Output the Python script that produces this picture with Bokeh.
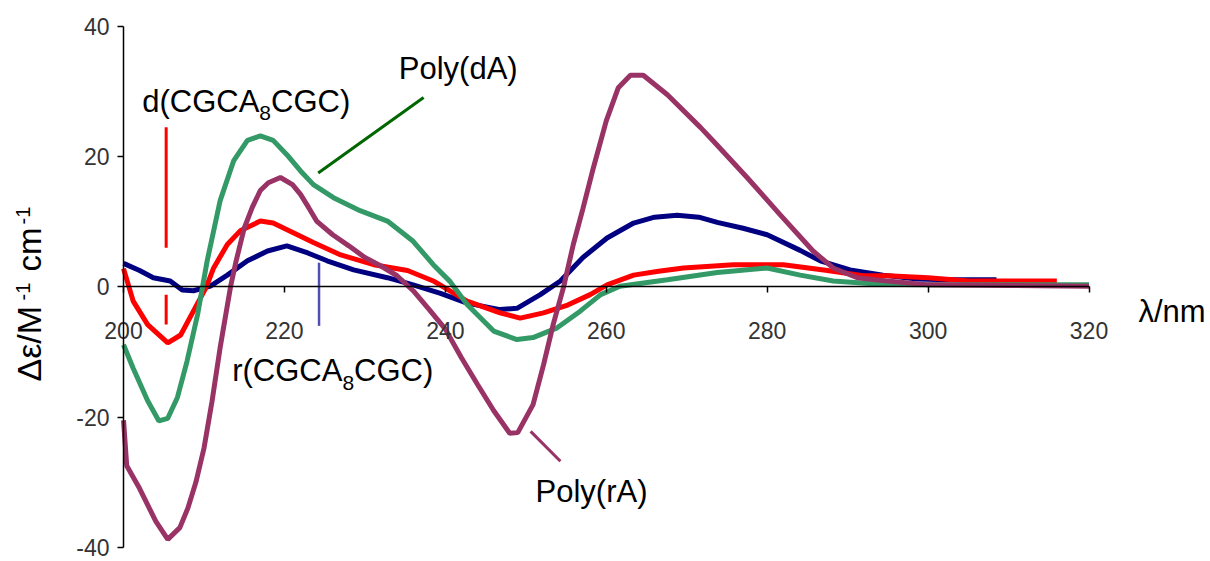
import math
from bokeh.plotting import figure
from bokeh.models import LinearAxis, Range1d, Label, FixedTicker, PrintfTickFormatter
from bokeh.embed import file_html
from bokeh.resources import INLINE

# ---------------- data ----------------
x_ticks = [200, 220, 240, 260, 280, 300, 320]
y_ticks = [-40, -20, 0, 20, 40]

wl_r = [200, 202, 203.7, 205.8, 207.3, 208.7, 210.8, 212.9, 215.4, 217.9, 220.3, 222.9, 225.3,
        228.6, 232.8, 236, 239.4, 242.7, 246.8, 248.9, 251.8, 254.3, 257.1, 260.1, 263.4, 266,
        268.8, 271.5, 273.8, 277, 280, 284.1, 286.6, 290.3, 294.4, 298.6, 302.5, 306.8, 308.5]
cd_r = [3.6, 2.5, 1.4, 0.9, -0.5, -0.6, 0.1, 1.8, 4.0, 5.5, 6.3, 5.2, 4.0,
        2.6, 1.4, 0.3, -1.0, -2.5, -3.5, -3.3, -1.2, 0.9, 4.5, 7.5, 9.8, 10.7,
        11.0, 10.7, 9.9, 9.0, 8.0, 5.6, 4.0, 2.6, 1.8, 1.2, 1.1, 1.1, 1.1]

wl_d = [200, 201.2, 203, 205.5, 207.1, 208.7, 210.3, 211.2, 212.9, 214.5, 217, 218.6, 221.1,
        223.6, 227, 231.1, 235.3, 238.5, 242.7, 246.8, 249.3, 252.2, 255.2, 258, 260.1, 263.4,
        266.5, 269.6, 275.8, 282, 287.5, 291.9, 295, 300, 305, 310, 316]
cd_d = [2.8, -2.2, -5.8, -8.6, -7.4, -3.7, 0.0, 2.9, 6.5, 8.6, 10.1, 9.8, 8.3,
        6.8, 4.9, 3.4, 2.5, 0.9, -2.2, -4.0, -4.8, -4.0, -2.8, -1.2, 0.3, 1.8,
        2.4, 2.9, 3.4, 3.4, 2.5, 1.7, 1.7, 1.4, 0.9, 0.9, 0.9]

wl_da = [200, 201.2, 203, 204.4, 205.5, 206.7, 207.9, 209.2, 210.4, 212, 213.7, 215.4, 217,
         218.6, 220.3, 222, 223.6, 226.1, 229.4, 232.8, 236, 238.5, 240.6, 242.7, 246, 248.9,
         250.9, 253.9, 256.8, 259.3, 261.7, 267.6, 273.8, 280, 284.1, 288.2, 294, 300, 310, 320]
cd_da = [-8.9, -12.5, -17.5, -20.6, -20.2, -17, -11.4, -4.3, 4.0, 13.2, 19.4, 22.5, 23.2,
         22.5, 20.3, 17.8, 15.7, 13.7, 11.7, 10.1, 7.0, 3.4, 0.8, -2.7, -6.8, -8.1,
         -7.8, -6.3, -3.7, -1.2, 0.1, 1.1, 2.2, 2.9, 1.8, 0.9, 0.4, 0.3, 0.3, 0.3]

wl_ra = [200, 200.4, 202, 204, 205.5, 207, 208, 209, 210, 211, 212, 213.3, 214, 215, 216, 217,
         218, 219.5, 221, 222, 223, 224, 226, 228, 230, 232, 234, 236, 238, 240, 242, 244, 246,
         248, 249, 250.9, 252.2, 253.4, 254.7, 255.9, 257.1, 258.4, 260, 261.5, 263, 264.6,
         267.6, 271.7, 273.3, 277.5, 281.6, 285.7, 288.2, 291.2, 294, 300, 310, 320]
cd_ra = [-20.5, -27.5, -31, -36, -38.8, -37, -34, -30, -24.8, -17.6, -9.4, 0, 4, 9, 12.2, 14.8,
         16, 16.8, 15.7, 14.2, 12.2, 10.1, 8, 6.3, 4.5, 3.2, 1.7, -0.6, -3.5, -6.5, -10.9, -15, -19,
         -22.5, -22.4, -18.1, -12, -5.8, 0, 6.5, 12, 18.3, 25.5, 30.6, 32.5, 32.5,
         29.5, 24.5, 22.4, 16.8, 11.1, 5.5, 2.9, 1.4, 1.0, 0.3, 0.2, 0.1]

# ---------------- figure ----------------
W, H = 1210, 561
X0, X1 = 184.71, 335.1
Y0, Y1 = -42.2, 43.99
K = 0.4  # empirical baseline correction (fraction of font size)

def px2x(px):
    return X0 + px * (X1 - X0) / W

def py2y(py):
    return Y1 - py * (Y1 - Y0) / H

p = figure(width=W, height=H, x_range=Range1d(X0, X1), y_range=Range1d(Y0, Y1),
           output_backend="svg", toolbar_location=None,
           x_axis_location=None, y_axis_location=None,
           min_border_left=0, min_border_right=0, min_border_top=0, min_border_bottom=0)
p.grid.visible = False
p.outline_line_color = None

tick_font = "'Liberation Sans Narrow', 'Liberation Sans', Arial, sans-serif"

def style_axis(ax):
    ax.major_tick_out = 6
    ax.major_tick_in = 0
    ax.minor_tick_out = 0
    ax.minor_tick_in = 0
    ax.axis_line_color = "black"
    ax.axis_line_width = 1.5
    ax.major_tick_line_width = 1.5
    ax.major_label_text_font = tick_font
    ax.major_label_text_font_size = "23px"
    ax.major_label_text_color = "#333333"
    ax.formatter = PrintfTickFormatter(format="%d")

xaxis = LinearAxis(fixed_location=0, ticker=FixedTicker(ticks=x_ticks), bounds=(200, 320))
style_axis(xaxis)
xaxis.major_label_standoff = 29
p.add_layout(xaxis, "below")

yaxis = LinearAxis(fixed_location=200, ticker=FixedTicker(ticks=y_ticks), bounds=(-40, 40))
style_axis(yaxis)
yaxis.major_label_standoff = 8
p.add_layout(yaxis, "left")

# curves
p.line(wl_r, cd_r, line_color="#000080", line_width=5)
p.line(wl_d, cd_d, line_color="#ff0000", line_width=5)
p.line(wl_da, cd_da, line_color="#339966", line_width=5)
p.line(wl_ra, cd_ra, line_color="#993366", line_width=5)

# leader lines
p.segment(x0=[205.3, 205.3], y0=[24.5, -1.2], x1=[205.3, 205.3], y1=[6.0, -5.8],
          line_color="#ff0000", line_width=3)
p.segment(x0=[224.2], y0=[17.5], x1=[237.3], y1=[29.1], line_color="#006600", line_width=3)
p.segment(x0=[224.3], y0=[3.7], x1=[224.3], y1=[-6.0], line_color="#5050b4", line_width=2.5)
p.segment(x0=[250.6], y0=[-22.2], x1=[254.3], y1=[-26.8], line_color="#993366", line_width=3)

def txt(px, py, t, size, rotated=False):
    if rotated:
        px = px - K * size
        angle = math.pi / 2
    else:
        py = py - K * size
        angle = 0.0
    p.add_layout(Label(x=px2x(px), y=py2y(py), text=t, text_font="Liberation Sans",
                       text_font_size=f"{size}px", text_color="black",
                       text_baseline="alphabetic", text_align="left", angle=angle))

# d(CGCA8CGC)
txt(141.7, 113.5, "d(CGCA", 31)
txt(258.8, 120.7, "8", 21)
txt(270.5, 113.5, "CGC)", 31)
# r(CGCA8CGC)
txt(231.7, 382.7, "r(CGCA", 31)
txt(341.9, 390.7, "8", 21)
txt(353.6, 382.7, "CGC)", 31)
# Poly labels
txt(398.3, 80.0, "Poly(dA)", 31)
txt(535.0, 503.3, "Poly(rA)", 31)
# axis title at right
txt(1138.0, 323.0, "λ/nm", 31)
# y axis title (rotated, composed with superscripts)
txt(41.7, 381.0, "Δε/M", 34, True)
txt(30.0, 300.0, "-1", 20, True)
txt(41.7, 271.0, "cm", 33, True)
txt(30.0, 224.0, "-1", 20, True)

open("out.html", "w").write(file_html(p, INLINE))
